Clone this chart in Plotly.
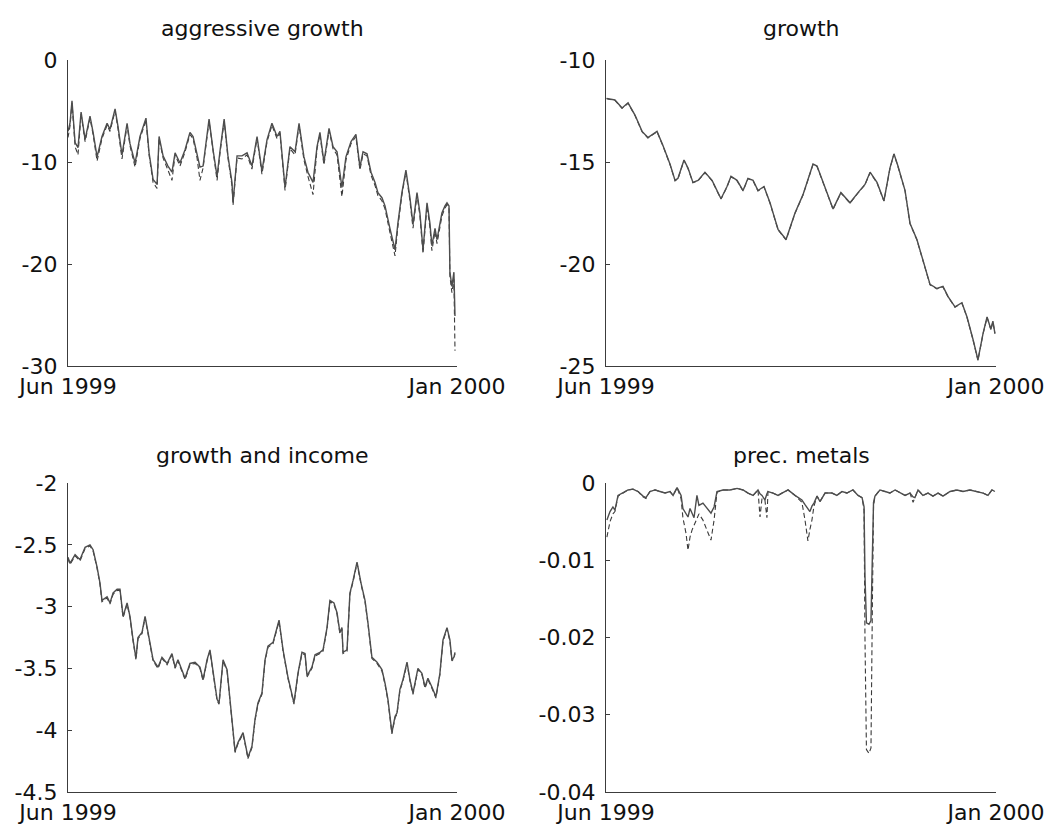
import plotly.graph_objects as go

# ---------------- data (x = calendar days since 1 Jun 1999) ----------------
x_ticks = [0, 214]
x_ticklabels = ["Jun 1999", "Jan 2000"]

titles = ["aggressive growth", "growth", "growth and income", "prec. metals"]

# aggressive growth
days_ag = [0, 1.1, 2.2, 3.9, 5.5, 7.2, 9.4, 12.1, 13.8, 16.0, 18.7, 21.5, 23.1, 25.9, 27.5,
           29.7, 32.5, 34.1, 36.9, 39.6, 42.9, 44.6, 46.8, 49.0, 50.1, 52.3, 55.0, 57.2, 58.9,
           61.6, 64.4, 67.1, 68.8, 71.0, 72.6, 74.3, 77.6, 79.8, 82.0, 83.7, 85.9, 88.0, 90.2,
           90.8, 93.0, 95.7, 98.5, 101.2, 104.0, 106.7, 109.5, 112.2, 115.0, 116.6, 119.4,
           122.1, 124.9, 127.1, 129.8, 132.0, 134.8, 137.0, 138.6, 140.8, 143.6, 145.8, 148.0,
           150.7, 152.9, 155.7, 158.4, 160.6, 162.3, 164.5, 166.7, 168.9, 170.5, 172.7, 174.4,
           177.1, 179.9, 181.5, 183.7, 185.9, 188.1, 189.8, 192.0, 193.6, 195.3, 197.5, 199.1,
           200.2, 201.9, 203.0, 204.6, 205.7, 207.4, 208.5, 209.6, 210.1, 211.2, 212.3, 212.9]
ag_solid = [-7.0, -6.2, -4.0, -8.1, -8.6, -5.1, -7.8, -5.5, -7.1, -9.5, -7.5, -6.2, -6.8, -4.8,
            -6.5, -9.3, -6.2, -8.2, -10.1, -7.5, -5.7, -9.1, -11.7, -12.2, -7.5, -9.4, -10.4,
            -11.0, -9.1, -10.1, -8.8, -7.1, -7.5, -9.4, -10.5, -10.4, -5.8, -8.8, -11.4, -8.8,
            -5.8, -9.4, -12.0, -14.0, -9.4, -9.4, -9.1, -10.4, -7.5, -10.9, -7.8, -6.2, -7.5,
            -7.0, -12.5, -8.5, -9.0, -6.2, -9.5, -11.0, -12.0, -8.5, -7.1, -10.0, -6.7, -8.5,
            -9.0, -12.5, -9.5, -8.0, -7.3, -10.5, -9.0, -9.2, -11.0, -12.0, -13.0, -13.5, -14.3,
            -16.5, -18.6, -16.0, -13.0, -10.8, -13.5, -16.1, -13.0, -15.0, -18.6, -14.0, -16.0,
            -18.2, -16.5, -17.6, -16.0, -15.0, -14.3, -14.0, -14.3, -20.8, -22.2, -20.8, -25.1]
ag_dashed = [-7.6, -6.5, -4.2, -8.5, -9.3, -5.3, -8.0, -5.7, -7.3, -9.9, -7.7, -6.4, -7.0, -5.0,
             -6.7, -9.7, -6.4, -8.4, -10.5, -7.7, -5.9, -9.3, -12.0, -12.6, -7.7, -9.6, -10.8,
             -11.8, -9.3, -10.4, -9.0, -7.3, -7.7, -9.6, -11.8, -10.6, -6.0, -9.0, -11.8, -9.0,
             -6.0, -9.6, -12.3, -14.2, -9.6, -9.7, -9.3, -10.7, -7.7, -11.2, -8.0, -6.4, -7.7,
             -7.2, -12.8, -8.7, -9.3, -6.4, -9.8, -11.4, -13.2, -8.7, -7.3, -10.3, -6.9, -8.7,
             -9.3, -13.4, -9.8, -8.2, -7.5, -10.8, -9.2, -9.4, -11.3, -12.3, -13.3, -13.8, -14.6,
             -16.9, -19.2, -16.3, -13.2, -11.0, -13.8, -16.5, -13.2, -15.3, -19.0, -14.3, -16.4,
             -18.7, -16.8, -18.0, -16.3, -15.3, -14.5, -14.2, -14.6, -21.2, -22.8, -21.5, -28.5]

# growth
days_gr = [0.3, 4.9, 8.8, 12.1, 15.9, 19.8, 23.0, 28.0, 31.3, 35.1, 37.9, 39.5, 42.8, 45.0,
           47.7, 50.5, 54.3, 58.2, 63.1, 66.4, 68.6, 71.9, 75.2, 77.9, 80.7, 83.4, 86.7, 90.0,
           92.7, 94.4, 98.8, 103.7, 108.1, 110.8, 113.6, 115.8, 119.1, 121.8, 124.6, 128.9,
           133.9, 138.3, 142.1, 144.9, 148.7, 152.5, 155.8, 158.0, 160.2, 164.1, 166.8, 170.6,
           173.9, 177.8, 181.6, 184.9, 187.7, 191.5, 195.3, 198.1, 201.4, 204.1, 206.9, 209.1,
           211.2, 212.3, 213.4]
gr_solid = [-11.88, -11.96, -12.35, -12.10, -12.70, -13.50, -13.80, -13.50, -14.20, -15.10,
            -15.90, -15.80, -14.90, -15.30, -16.00, -15.90, -15.50, -15.90, -16.80, -16.20,
            -15.70, -15.90, -16.40, -15.80, -15.90, -16.40, -16.20, -17.00, -17.80, -18.30,
            -18.80, -17.50, -16.60, -15.90, -15.10, -15.20, -16.00, -16.70, -17.30, -16.50,
            -17.00, -16.50, -16.10, -15.50, -16.00, -16.90, -15.30, -14.60, -15.20, -16.40,
            -18.00, -18.80, -19.80, -21.00, -21.20, -21.10, -21.60, -22.10, -21.90, -22.60,
            -23.70, -24.70, -23.40, -22.60, -23.20, -22.80, -23.40]
gr_dashed = [-11.90, -11.98, -12.37, -12.12, -12.72, -13.52, -13.82, -13.52, -14.22, -15.12,
             -15.92, -15.82, -14.92, -15.32, -16.02, -15.92, -15.52, -15.92, -16.82, -16.22,
             -15.72, -15.92, -16.42, -15.82, -15.92, -16.42, -16.22, -17.02, -17.82, -18.32,
             -18.82, -17.52, -16.62, -15.92, -15.12, -15.22, -16.02, -16.72, -17.32, -16.52,
             -17.02, -16.52, -16.12, -15.52, -16.02, -16.92, -15.32, -14.62, -15.22, -16.42,
             -18.02, -18.82, -19.82, -21.02, -21.22, -21.12, -21.62, -22.12, -21.92, -22.62,
             -23.72, -24.72, -23.42, -22.62, -23.22, -22.82, -23.42]

# growth and income
days_gi = [0, 1.1, 3.9, 6.6, 9.4, 12.1, 13.8, 16.0, 17.6, 18.7, 21.5, 23.1, 24.8, 27.0, 28.6,
           30.3, 32.5, 34.1, 35.8, 37.4, 38.5, 40.7, 42.4, 44.0, 46.8, 49.5, 51.7, 54.5, 57.2,
           58.9, 60.5, 64.4, 67.1, 69.9, 72.6, 74.3, 76.5, 78.1, 79.8, 82.0, 83.1, 85.3, 87.5,
           89.1, 90.8, 91.9, 93.5, 96.3, 97.4, 99.0, 101.2, 102.9, 104.5, 106.7, 108.4, 110.0,
           112.8, 116.1, 118.3, 121.0, 124.3, 126.5, 128.7, 130.4, 131.5, 134.2, 135.9, 138.6,
           140.3, 142.5, 144.1, 146.3, 148.0, 149.6, 150.7, 151.3, 153.5, 155.1, 156.8, 159.0,
           161.2, 163.4, 165.0, 167.2, 170.0, 172.7, 174.4, 176.0, 178.2, 179.9, 181.0, 182.6,
           184.3, 186.5, 188.1, 189.8, 192.5, 194.7, 196.4, 198.0, 200.2, 202.4, 204.6, 206.3,
           208.5, 210.1, 211.2, 212.3, 212.9]
gi_solid = [-2.60, -2.65, -2.58, -2.62, -2.52, -2.50, -2.54, -2.68, -2.81, -2.95, -2.92, -2.97,
            -2.89, -2.86, -2.86, -3.08, -2.97, -3.08, -3.27, -3.42, -3.25, -3.21, -3.08, -3.21,
            -3.43, -3.49, -3.41, -3.46, -3.38, -3.49, -3.43, -3.58, -3.46, -3.45, -3.49, -3.59,
            -3.43, -3.35, -3.54, -3.75, -3.78, -3.43, -3.51, -3.75, -4.02, -4.17, -4.10, -4.02,
            -4.10, -4.22, -4.13, -3.91, -3.78, -3.70, -3.43, -3.32, -3.29, -3.11, -3.35, -3.57,
            -3.78, -3.54, -3.37, -3.38, -3.56, -3.49, -3.39, -3.37, -3.35, -3.17, -2.95, -2.97,
            -3.05, -3.21, -3.17, -3.37, -3.35, -2.89, -2.79, -2.64, -2.81, -2.95, -3.13, -3.41,
            -3.45, -3.51, -3.62, -3.75, -4.02, -3.89, -3.86, -3.67, -3.59, -3.45, -3.59, -3.70,
            -3.50, -3.54, -3.65, -3.58, -3.65, -3.73, -3.54, -3.27, -3.17, -3.27, -3.43, -3.41,
            -3.37]
gi_dashed = [-2.61, -2.66, -2.59, -2.63, -2.53, -2.51, -2.55, -2.69, -2.82, -2.96, -2.93, -2.98,
             -2.90, -2.87, -2.87, -3.09, -2.98, -3.09, -3.28, -3.43, -3.26, -3.22, -3.09, -3.22,
             -3.44, -3.50, -3.42, -3.47, -3.39, -3.50, -3.44, -3.59, -3.47, -3.46, -3.50, -3.60,
             -3.44, -3.36, -3.55, -3.76, -3.79, -3.44, -3.52, -3.76, -4.03, -4.18, -4.11, -4.03,
             -4.11, -4.23, -4.14, -3.92, -3.79, -3.71, -3.44, -3.33, -3.30, -3.12, -3.36, -3.58,
             -3.79, -3.55, -3.38, -3.39, -3.57, -3.50, -3.40, -3.38, -3.36, -3.18, -2.96, -2.98,
             -3.06, -3.22, -3.18, -3.38, -3.36, -2.90, -2.80, -2.65, -2.82, -2.96, -3.14, -3.42,
             -3.46, -3.52, -3.63, -3.76, -4.03, -3.90, -3.87, -3.68, -3.60, -3.46, -3.60, -3.71,
             -3.51, -3.55, -3.66, -3.59, -3.66, -3.74, -3.55, -3.28, -3.18, -3.28, -3.44, -3.42,
             -3.38]

# precious metals
days_pm = [0.5, 2.2, 3.8, 4.9, 6.6, 9.3, 12.1, 14.8, 17.6, 20.3, 21.9, 24.1, 26.9, 29.6, 32.4,
           35.1, 36.8, 39.0, 41.2, 42.2, 43.9, 45.0, 46.1, 47.2, 48.3, 49.9, 51.0, 53.2, 55.4,
           57.6, 59.3, 60.9, 64.2, 68.0, 71.9, 75.2, 77.9, 80.7, 83.4, 84.5, 85.6, 87.2, 88.3,
           88.9, 91.6, 94.4, 96.6, 99.9, 103.7, 107.5, 109.2, 110.8, 111.9, 113.0, 114.1, 115.8,
           117.4, 120.2, 124.0, 126.7, 129.5, 132.2, 135.5, 138.3, 140.5, 141.6, 142.1, 142.9,
           144.3, 145.4, 146.2, 146.8, 147.6, 150.3, 153.1, 155.8, 158.6, 161.3, 164.1, 166.8,
           168.5, 169.5, 171.2, 173.9, 176.7, 179.4, 182.2, 184.9, 188.8, 192.6, 195.9, 199.7,
           203.6, 206.9, 209.6, 211.8, 213.4]
pm_solid = [-0.0048, -0.0037, -0.0031, -0.0035, -0.0016, -0.0013, -0.0009, -0.0008, -0.0011,
            -0.0017, -0.0019, -0.0011, -0.0009, -0.0011, -0.0013, -0.0011, -0.0016, -0.0006,
            -0.0016, -0.0033, -0.0040, -0.0044, -0.0033, -0.0040, -0.0045, -0.0016, -0.0029,
            -0.0026, -0.0033, -0.0039, -0.0031, -0.0011, -0.0009, -0.0009, -0.0007, -0.0009,
            -0.0013, -0.0016, -0.0009, -0.0014, -0.0016, -0.0022, -0.0014, -0.0011, -0.0013,
            -0.0016, -0.0013, -0.0009, -0.0016, -0.0022, -0.0028, -0.0033, -0.0037, -0.0030,
            -0.0026, -0.0017, -0.0024, -0.0013, -0.0013, -0.0016, -0.0011, -0.0013, -0.0009,
            -0.0016, -0.0019, -0.0031, -0.0120, -0.0181, -0.0183, -0.0178, -0.0080, -0.0025,
            -0.0017, -0.0009, -0.0011, -0.0013, -0.0009, -0.0013, -0.0016, -0.0013, -0.0018,
            -0.0019, -0.0009, -0.0016, -0.0013, -0.0017, -0.0013, -0.0017, -0.0011, -0.0009,
            -0.0011, -0.0009, -0.0011, -0.0013, -0.0016, -0.0009, -0.0011]
pm_dashed = [-0.0070, -0.0050, -0.0040, -0.0037, -0.0017, -0.0013, -0.0009, -0.0008, -0.0011,
             -0.0018, -0.0020, -0.0011, -0.0009, -0.0011, -0.0013, -0.0011, -0.0016, -0.0006,
             -0.0020, -0.0045, -0.0065, -0.0087, -0.0070, -0.0061, -0.0055, -0.0048, -0.0040,
             -0.0048, -0.0061, -0.0074, -0.0048, -0.0012, -0.0009, -0.0009, -0.0007, -0.0009,
             -0.0013, -0.0016, -0.0009, -0.0044, -0.0020, -0.0022, -0.0045, -0.0011, -0.0013,
             -0.0016, -0.0013, -0.0009, -0.0016, -0.0025, -0.0048, -0.0075, -0.0060, -0.0048,
             -0.0030, -0.0017, -0.0024, -0.0013, -0.0013, -0.0016, -0.0011, -0.0013, -0.0009,
             -0.0016, -0.0019, -0.0035, -0.0200, -0.0345, -0.0350, -0.0343, -0.0150, -0.0030,
             -0.0017, -0.0009, -0.0011, -0.0013, -0.0009, -0.0013, -0.0016, -0.0013, -0.0025,
             -0.0019, -0.0009, -0.0016, -0.0013, -0.0017, -0.0013, -0.0017, -0.0011, -0.0009,
             -0.0011, -0.0009, -0.0011, -0.0013, -0.0016, -0.0009, -0.0011]

yticks_ag = [0, -10, -20, -30]
yticks_gr = [-10, -15, -20, -25]
yticks_gi = [-2, -2.5, -3, -3.5, -4, -4.5]
yticks_pm = [0, -0.01, -0.02, -0.03, -0.04]
yticklabels_ag = ["0", "-10", "-20", "-30"]
yticklabels_gr = ["-10", "-15", "-20", "-25"]
yticklabels_gi = ["-2", "-2.5", "-3", "-3.5", "-4", "-4.5"]
yticklabels_pm = ["0", "-0.01", "-0.02", "-0.03", "-0.04"]

# ---------------- figure ----------------
OFF = 8                      # the page body adds an 8 px margin
W, H = 1055 - OFF, 833 - OFF
FONT = "DejaVu Sans, Arial, sans-serif"
FS = 22
AX = "#3c3c3c"
SOLID = "#4d4d4d"
DASH = "#3a3a3a"
TXT = "#111111"

panels = [
    (days_ag, ag_solid, ag_dashed, yticks_ag, yticklabels_ag, [-30, 0]),
    (days_gr, gr_solid, gr_dashed, yticks_gr, yticklabels_gr, [-25, -10]),
    (days_gi, gi_solid, gi_dashed, yticks_gi, yticklabels_gi, [-4.5, -2]),
    (days_pm, pm_solid, pm_dashed, yticks_pm, yticklabels_pm, [-0.04, 0]),
]

# window-pixel boxes of the four plot areas (left, right, top, bottom)
boxes = [(68, 457, 60, 366), (606, 996, 60, 366), (68, 457, 483, 792), (606, 996, 483, 792)]
title_gap = [32, 32, 28, 28]

fig = go.Figure()
layout = dict(
    width=W, height=H,
    margin=dict(l=0, r=0, t=0, b=0, autoexpand=False),
    paper_bgcolor="white", plot_bgcolor="white",
    showlegend=False,
    font=dict(family=FONT, size=FS, color=TXT),
    annotations=[],
)

for i, (xs, ys, yd, yt, ytl, yr) in enumerate(panels):
    n = "" if i == 0 else str(i + 1)
    xa, ya = "x" + n, "y" + n
    fig.add_trace(go.Scatter(x=xs, y=yd, mode="lines", xaxis=xa, yaxis=ya,
                             line=dict(color=DASH, width=1.1, dash="5px,3px")))
    fig.add_trace(go.Scatter(x=xs, y=ys, mode="lines", xaxis=xa, yaxis=ya,
                             line=dict(color=SOLID, width=1.4)))
    l, r, t, b = [v - OFF for v in boxes[i]]
    layout["xaxis" + n] = dict(
        domain=[l / W, r / W], anchor=ya, range=[0, 214], automargin=False,
        tickvals=x_ticks, ticktext=x_ticklabels, ticks="inside", ticklen=4,
        tickcolor=AX, showline=True, linecolor=AX, linewidth=1.2, ticklabelstandoff=0,
        showgrid=False, zeroline=False, tickfont=dict(family=FONT, size=FS, color=TXT),
    )
    layout["yaxis" + n] = dict(
        domain=[1 - b / H, 1 - t / H], anchor=xa, range=yr, automargin=False,
        tickvals=yt, ticktext=ytl, ticks="inside", ticklen=4,
        tickcolor=AX, showline=True, linecolor=AX, linewidth=1.2,
        showgrid=False, zeroline=False, ticklabelstandoff=5,
        tickfont=dict(family=FONT, size=FS, color=TXT),
    )
    layout["annotations"].append(dict(
        text=titles[i], xref="paper", yref="paper",
        x=(l + r) / 2 / W, y=1 - (t - title_gap[i]) / H, xanchor="center", yanchor="middle",
        showarrow=False, font=dict(family=FONT, size=FS, color=TXT),
    ))

fig.update_layout(**layout)
fig.write_html("out.html")
